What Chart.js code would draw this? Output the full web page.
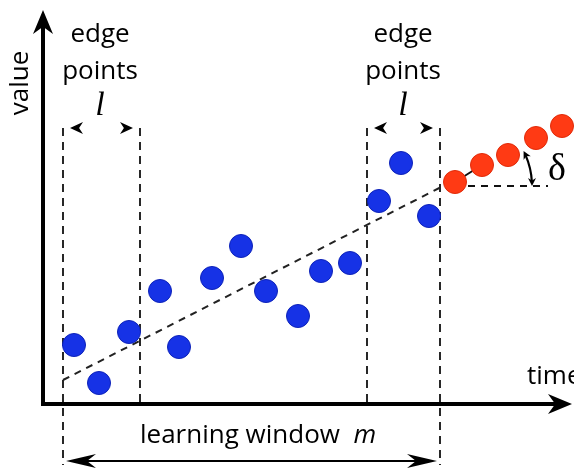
<!DOCTYPE html>
<html>
<head>
<meta charset="utf-8">
<script src="https://cdn.jsdelivr.net/npm/chart.js@4/dist/chart.umd.min.js"></script>
<style>
  html, body { margin: 0; padding: 0; background: #fff; }
  canvas { display: block; }
</style>
</head>
<body>
<canvas id="chart" width="574" height="469"></canvas>
<script>
// learning window points (time, value)
const blueTime = [3.1, 5.6, 8.6, 11.7, 13.6, 16.9, 19.8, 22.3, 25.5, 27.8, 30.7, 33.6, 35.8, 38.6];
const blueValue = [14.75, 5.25, 18, 28.25, 14.25, 31.5, 39.5, 28.25, 22, 33.25, 35.25, 50.75, 60.25, 47];

// predicted points
const redTime = [41.2, 43.9, 46.5, 49.3, 51.9];
const redValue = [55.5, 59.75, 62.25, 66.5, 69.5];

// fitted trend
const trendTime = [2.0, 41.2];
const trendValue = [6, 56];

// window borders: left edge, inner left, inner right, right edge
const edgeTime = [2.0, 9.7, 32.4, 39.7];
const edgeTop = 69;
const edgeBottom = [-15.25, 0, 0, -15.25];

const axisEnd = { time: 52.9, value: 98.5 };
const windowArrowValue = -14.25;
const deltaEnd = 50.5;
const deltaBase = 54.5;

const pts = (xs, ys) => xs.map((x, i) => ({ x, y: ys[i] }));

const dashedLines = edgeTime.map((t, i) => ({
  data: [{ x: t, y: edgeTop }, { x: t, y: edgeBottom[i] }],
  showLine: true,
  borderColor: '#111',
  borderWidth: 1.8,
  borderDash: [8, 6],
  pointRadius: 0,
  order: 5,
}));

function arrowHead(ctx, x, y, angle, len, wid) {
  ctx.save();
  ctx.translate(x, y);
  ctx.rotate(angle);
  ctx.beginPath();
  ctx.moveTo(0, 0);
  ctx.lineTo(-len, -wid / 2);
  ctx.lineTo(-len * 0.7, 0);
  ctx.lineTo(-len, wid / 2);
  ctx.closePath();
  ctx.fill();
  ctx.restore();
}

const decor = {
  id: 'decor',
  beforeDatasetsDraw(chart) {
    const { ctx, scales: { x, y } } = chart;
    const ox = x.getPixelForValue(0), oy = y.getPixelForValue(0);
    const ex = x.getPixelForValue(axisEnd.time), ey = y.getPixelForValue(axisEnd.value);
    ctx.save();
    ctx.strokeStyle = '#000';
    ctx.fillStyle = '#000';
    ctx.lineWidth = 4;
    ctx.beginPath();
    ctx.moveTo(ox, ey + 15);
    ctx.lineTo(ox, oy);
    ctx.lineTo(ex - 15, oy);
    ctx.stroke();
    arrowHead(ctx, ex, oy, 0, 24, 20);
    arrowHead(ctx, ox, ey, -Math.PI / 2, 24, 20);

    // learning window arrow
    const wy = y.getPixelForValue(windowArrowValue);
    const wl = x.getPixelForValue(edgeTime[0]), wr = x.getPixelForValue(edgeTime[3]);
    ctx.lineWidth = 2;
    ctx.beginPath();
    ctx.moveTo(wl + 10, wy);
    ctx.lineTo(wr - 10, wy);
    ctx.stroke();
    arrowHead(ctx, wl + 3, wy, Math.PI, 30, 14);
    arrowHead(ctx, wr - 3, wy, 0, 30, 14);

    // edge point width arrows
    const ay = y.getPixelForValue(edgeTop);
    [[0, 1], [2, 3]].forEach(([a, b]) => {
      const l = x.getPixelForValue(edgeTime[a]), r = x.getPixelForValue(edgeTime[b]);
      arrowHead(ctx, l + 7, ay, Math.PI, 13, 12);
      arrowHead(ctx, r - 7, ay, 0, 13, 12);
    });

    // delta arc
    const cx = x.getPixelForValue(redTime[0]), cy = y.getPixelForValue(deltaBase);
    const ang = Math.atan2(
      y.getPixelForValue(trendValue[1]) - y.getPixelForValue(trendValue[0]),
      x.getPixelForValue(trendTime[1]) - x.getPixelForValue(trendTime[0]));
    const rad = 77;
    ctx.lineWidth = 2.2;
    ctx.beginPath();
    ctx.arc(cx, cy, rad, ang + 0.06, -0.05);
    ctx.stroke();
    arrowHead(ctx, cx + rad * Math.cos(ang), cy + rad * Math.sin(ang), ang - Math.PI / 2, 8, 8);
    arrowHead(ctx, cx + rad, cy, Math.PI / 2, 8, 8);
    ctx.restore();
  },
  afterDatasetsDraw(chart) {
    const { ctx, scales: { x, y } } = chart;
    const px = (t) => x.getPixelForValue(t), py = (v) => y.getPixelForValue(v);
    ctx.save();
    ctx.fillStyle = '#000';
    ctx.textAlign = 'center';
    ctx.textBaseline = 'middle';
    ctx.font = '26px "Open Sans", sans-serif';
    [5.7, 36.0].forEach((t) => {
      ctx.fillText('edge', px(t), py(92.25));
      ctx.fillText('points', px(t), py(83));
    });
    ctx.font = 'italic 34px "Liberation Serif", serif';
    [5.7, 36.0].forEach((t) => ctx.fillText('l', px(t), py(74.5)));

    ctx.font = '26px "Open Sans", sans-serif';
    ctx.save();
    ctx.translate(px(-2.2), py(80.25));
    ctx.rotate(-Math.PI / 2);
    ctx.fillText('value', 0, 0);
    ctx.restore();

    ctx.textAlign = 'left';
    ctx.fillText('time', px(48.4), py(6.75));
    const lw = 'learning window  ';
    ctx.fillText(lw, px(9.7), py(-8));
    const w = ctx.measureText(lw).width;
    ctx.font = 'italic 26px "Open Sans", sans-serif';
    ctx.fillText('m', px(9.7) + w, py(-8));

    ctx.textAlign = 'center';
    ctx.font = '38px "Liberation Serif", serif';
    ctx.fillText('δ', px(51.4), py(58.5));
    ctx.restore();
  },
};

new Chart(document.getElementById('chart'), {
  type: 'scatter',
  data: {
    datasets: [
      {
        data: pts(blueTime, blueValue),
        backgroundColor: '#1632e6',
        borderColor: '#0d22b8',
        borderWidth: 1,
        pointRadius: 11.5,
        order: 1,
      },
      {
        data: pts(redTime, redValue),
        backgroundColor: '#ff3a14',
        borderColor: '#e02a08',
        borderWidth: 1,
        pointRadius: 11.5,
        order: 1,
      },
      {
        data: pts(trendTime, trendValue),
        showLine: true,
        borderColor: '#222',
        borderWidth: 2,
        borderDash: [7, 6],
        pointRadius: 0,
        order: 4,
      },
      {
        data: pts(redTime.slice(0, 2), redValue.slice(0, 2)),
        showLine: true,
        borderColor: '#111',
        borderWidth: 2,
        pointRadius: 0,
        order: 4,
      },
      {
        data: [{ x: redTime[0], y: deltaBase }, { x: deltaEnd, y: deltaBase }],
        showLine: true,
        borderColor: '#111',
        borderWidth: 2,
        borderDash: [7, 6],
        pointRadius: 0,
        order: 4,
      },
      ...dashedLines,
    ],
  },
  options: {
    responsive: false,
    animation: false,
    devicePixelRatio: 1,
    layout: { padding: 0, autoPadding: false },
    clip: false,
    scales: {
      x: { type: 'linear', min: -4.3, max: 53.1, display: false },
      y: { type: 'linear', min: -16.25, max: 101, display: false },
    },
    plugins: { legend: { display: false }, tooltip: { enabled: false } },
  },
  plugins: [decor],
});
</script>
</body>
</html>
